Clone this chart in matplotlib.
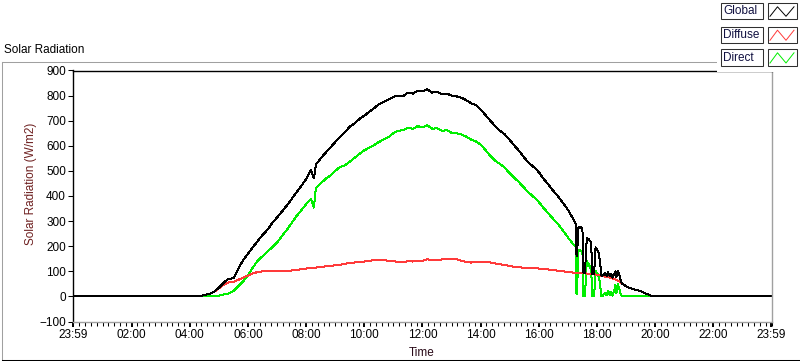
import numpy as np
import matplotlib
matplotlib.use('Agg')
import matplotlib.pyplot as plt
from matplotlib.lines import Line2D
from matplotlib.patches import Rectangle

plt.rcParams['font.family'] = ['Liberation Sans', 'DejaVu Sans']

# sample times in minutes after midnight (-1 = 23:59 of the day before)
minutes = ([-1] + list(range(250, 500, 10)) + [496] + list(range(500, 1040, 10)) +
           [1034, 1036, 1037, 1039, 1041, 1044, 1047, 1050, 1052, 1055,
            1059, 1063, 1066, 1068, 1070, 1074, 1077, 1081, 1084, 1086,
            1089, 1091, 1094, 1097, 1100, 1103, 1106, 1109, 1112, 1115,
            1118, 1120, 1123, 1126, 1129, 1132, 1136, 1142, 1150, 1160,
            1170, 1180, 1190, 1197, 1439])
# move the 496 entry into order
minutes = sorted(minutes)

global_rad = ([0] +
    [0, 2, 5, 10, 18, 35, 55, 70, 72, 110, 145, 170, 196, 220, 245, 265, 292, 315, 338, 362, 388, 415, 440, 468, 505] +
    [470] +
    [525, 550, 572, 593, 615, 636, 655, 676, 690, 707,
     720, 735, 750, 765, 775, 785, 795, 800, 798, 812,
     808, 820, 818, 825, 812, 815, 805, 808, 800, 797,
     792, 782, 770, 762, 745, 722, 700, 678, 660, 645,
     623, 600, 578, 553, 530, 515, 495, 468, 445, 420,
     398, 372, 345, 312] +
    [296, 290, 170, 160, 270, 278, 276, 265, 94, 92,
     232, 228, 220, 215, 91, 88, 195, 182, 170, 140,
     85, 82, 86, 92, 82, 96, 81, 90, 74, 88,
     100, 77, 100, 85, 64, 50, 46, 38, 32, 26,
     21, 12, 4, 0] + [0])

diffuse_rad = ([0] +
    [0, 2, 5, 10, 18, 32, 47, 56, 58, 66, 75, 83, 92, 97, 100, 102, 103, 102, 102, 102, 103, 106, 108, 111, 113] +
    [114] +
    [115, 117, 120, 122, 124, 126, 130, 133, 135, 137,
     139, 142, 144, 145, 145, 142, 140, 138, 136, 140,
     139, 140, 142, 148, 145, 146, 147, 148, 150, 149,
     142, 138, 135, 136, 137, 139, 135, 131, 128, 125,
     121, 118, 116, 114, 113, 112, 111, 109, 107, 105,
     102, 100, 97, 95] +
    [95, 95, 95, 95, 94, 94, 93, 93, 92, 92,
     91, 90, 90, 89, 89, 88, 87, 86, 85, 84,
     83, 82, 80, 79, 78, 76, 75, 73, 71, 69,
     67, 65, 62, 59, 56, 50, 46, 38, 32, 26,
     21, 12, 4, 0] + [0])

direct_rad = ([0] +
    [0, 0, 0, 0, 1, 3, 8, 12, 22, 40, 60, 85, 115, 142, 160, 178, 196, 215, 240, 265, 292, 320, 343, 368, 388] +
    [354] +
    [430, 450, 468, 482, 500, 516, 522, 537, 552, 568,
     582, 592, 603, 615, 625, 635, 650, 660, 662, 672,
     668, 678, 674, 682, 668, 670, 660, 662, 652, 650,
     645, 637, 625, 618, 605, 583, 560, 540, 528, 512,
     490, 472, 453, 432, 412, 395, 376, 352, 330, 308,
     288, 262, 235, 210] +
    [202, 198, 15, 10, 180, 184, 182, 175, 2, 0,
     140, 128, 115, 110, 2, 0, 102, 90, 75, 55,
     2, 0, 8, 15, 4, 22, 6, 18, 3, 20,
     45, 12, 50, 30, 8, 0, 0, 0, 0, 0,
     0, 0, 0, 0] + [0])

tick_hours = [-1 / 60, 2, 4, 6, 8, 10, 12, 14, 16, 18, 20, 22, 1439 / 60]
tick_labels = ['23:59', '02:00', '04:00', '06:00', '08:00', '10:00', '12:00',
               '14:00', '16:00', '18:00', '20:00', '22:00', '23:59']
series_names = ['Global', 'Diffuse', 'Direct']
series_colors = ['#000000', '#ff3a3a', '#00ee00']

W, H = 800, 361
fig = plt.figure(figsize=(W / 100, H / 100), dpi=100)


def fx(px):
    return px / W


def fy(py):
    return 1 - py / H


# outer frame of the graph
fig.add_artist(Line2D([fx(1.5), fx(1.5)], [fy(61.5), fy(360)], color='#a0a0a0', lw=0.75))
fig.add_artist(Line2D([fx(1.5), fx(790)], [fy(61.5), fy(61.5)], color='#a0a0a0', lw=0.75))
fig.add_artist(Line2D([fx(1.5), fx(799)], [fy(359.8), fy(359.8)], color='#000000', lw=0.75))
fig.text(fx(4), fy(50), 'Solar Radiation', fontsize=8.5, va='center', ha='left', color='#000000')

ax = fig.add_axes([fx(73), fy(321.5), fx(771.5) - fx(73), fy(70.5) - fy(321.5)])
t = np.array(minutes) / 60.0
ax.plot(t, direct_rad, color=series_colors[2], lw=0.72, antialiased=False)
ax.plot(t, diffuse_rad, color=series_colors[1], lw=0.72, antialiased=False)
ax.plot(t, global_rad, color=series_colors[0], lw=0.72, antialiased=False)

ax.set_xlim(-1 / 60, 1439 / 60)
ax.set_ylim(-100, 900)
ax.set_yticks(np.arange(-100, 901, 100))
ax.set_xticks(tick_hours)
ax.set_xticklabels(tick_labels)
ax.set_xticks(np.arange(0, 24.01, 0.2), minor=True)
ax.tick_params(axis='both', which='major', labelsize=8.5, direction='out', length=3.6, width=0.75, pad=1.5)
ax.tick_params(axis='x', which='minor', direction='out', length=2.6, width=0.75)
ax.tick_params(axis='x', which='major', length=3.6, width=1.4, pad=2)
for s in ['left', 'top']:
    ax.spines[s].set_color('#000000')
    ax.spines[s].set_linewidth(1.0)
for s in ['right', 'bottom']:
    ax.spines[s].set_color('#a0a0a0')
    ax.spines[s].set_linewidth(1.0)
ax.set_ylabel('Solar Radiation (W/m2)', fontsize=8.5, color='#6e2020')
ax.yaxis.set_label_coords(-0.051, 0.548)
fig.text(fx(422), fy(353), 'Time', fontsize=8.5, ha='center', va='center', color='#2a0a18')

# plot legend panel in the top right corner
fig.add_artist(Rectangle((fx(717), fy(72)), fx(800) - fx(717), fy(0) - fy(72),
                         transform=fig.transFigure, facecolor='white', edgecolor='none', zorder=5))
rows = [(3.3, 19.3), (26.7, 43.3), (49.3, 66)]
for (top, bot), name, col in zip(rows, series_names, series_colors):
    fig.add_artist(Rectangle((fx(721), fy(bot)), fx(763) - fx(721), fy(top) - fy(bot),
                             transform=fig.transFigure, facecolor='white', edgecolor='#303030',
                             lw=0.75, zorder=6))
    fig.text(fx(723.5), fy((top + bot) / 2), name, fontsize=8.5, ha='left', va='center',
             color='#101040', zorder=7)
    fig.add_artist(Rectangle((fx(768), fy(bot)), fx(797) - fx(768), fy(top) - fy(bot),
                             transform=fig.transFigure, facecolor='white', edgecolor='#303030',
                             lw=0.75, zorder=6))
    lo, hi = bot - 3, top + 3.5
    fig.add_artist(Line2D([fx(770), fx(777.5), fx(786), fx(794)], [fy(lo), fy(hi), fy(lo), fy(hi)],
                          color=col, lw=0.7, zorder=7))

fig.savefig('out.png', dpi=100)
